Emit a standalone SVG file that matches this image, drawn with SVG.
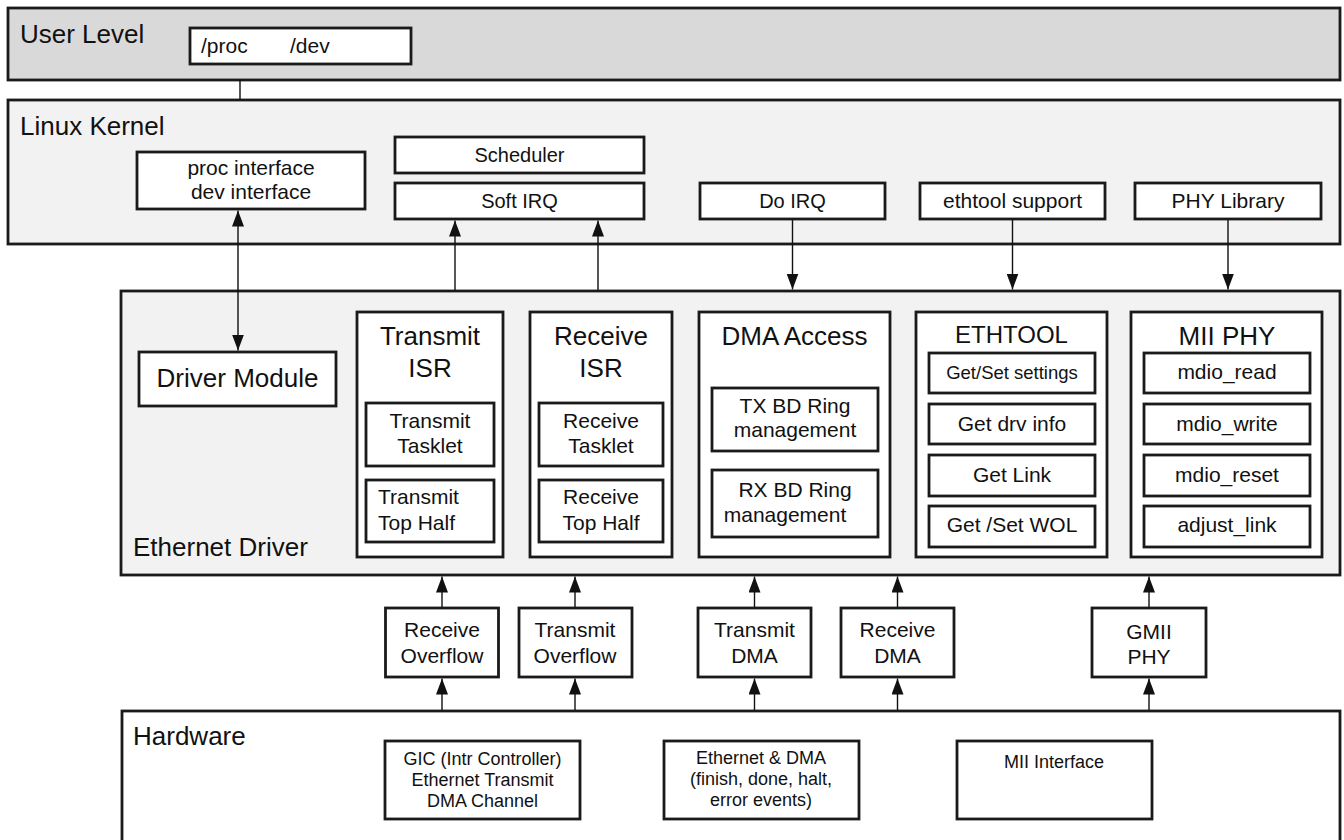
<svg xmlns="http://www.w3.org/2000/svg" width="1344" height="840" viewBox="0 0 1344 840">
<defs>
<marker id="ah" markerUnits="userSpaceOnUse" markerWidth="16" markerHeight="12" refX="16" refY="6" orient="auto-start-reverse">
<path d="M0,0 L16,6 L0,12 z" fill="#111"/>
</marker>
<style>
.band{stroke:#1a1a1a;stroke-width:2.8}
.box{fill:#fff;stroke:#1a1a1a;stroke-width:2.8}
text{font-family:"Liberation Sans",Arial,Helvetica,sans-serif;fill:#111}
.big{font-size:26px}
.mid{font-size:21px}
.sm{font-size:20px}
.hw{font-size:18px}
.c{text-anchor:middle}
.conn line{stroke:#111;stroke-width:1.4;marker-end:url(#ah)}
</style>
</defs>

<g id="user-level">
<rect class="band" x="8" y="8" width="1332" height="72" fill="#d9d9d9"/>
<text class="big" x="20" y="43">User Level</text>
<rect class="box" x="190" y="28" width="221" height="36"/>
<text class="mid" x="201" y="53">/proc</text>
<text class="mid" x="290" y="53">/dev</text>
</g>

<g id="linux-kernel">
<rect class="band" x="8" y="100" width="1332" height="144" fill="#f2f2f2"/>
<text class="big" x="20" y="135">Linux Kernel</text>
</g>
<g id="proc-interface">
<rect class="box" x="137" y="152" width="228" height="57"/>
<text class="mid c" x="251" y="175">proc interface</text>
<text class="mid c" x="251" y="199">dev interface</text>
</g>
<g id="scheduler">
<rect class="box" x="395" y="137" width="249" height="36"/>
<text class="sm c" x="519.5" y="162">Scheduler</text>
</g>
<g id="soft-irq">
<rect class="box" x="395" y="183" width="249" height="36"/>
<text class="sm c" x="519.5" y="208">Soft IRQ</text>
</g>
<g id="do-irq">
<rect class="box" x="700" y="183" width="185" height="36"/>
<text class="sm c" x="792.5" y="208">Do IRQ</text>
</g>
<g id="ethtool-support">
<rect class="box" x="920" y="183" width="185" height="36"/>
<text class="mid c" x="1012.5" y="208">ethtool support</text>
</g>
<g id="phy-library">
<rect class="box" x="1135" y="183" width="186" height="36"/>
<text class="mid c" x="1228" y="208">PHY Library</text>
</g>

<g id="ethernet-driver">
<rect class="band" x="121" y="291" width="1219" height="284" fill="#f2f2f2"/>
<text class="big" x="133" y="556">Ethernet Driver</text>
</g>
<g id="driver-module">
<rect class="box" x="139" y="352" width="197" height="54"/>
<text class="big c" x="237.5" y="387">Driver Module</text>
</g>
<g id="transmit-isr">
<rect class="box" x="357" y="312" width="146" height="245"/>
<text class="big c" x="430" y="345">Transmit</text>
<text class="big c" x="430" y="377">ISR</text>
<rect class="box" x="366" y="403" width="128" height="63"/>
<text class="mid c" x="430" y="428">Transmit</text>
<text class="mid c" x="430" y="453">Tasklet</text>
<rect class="box" x="366" y="480" width="128" height="62"/>
<text class="mid" x="378" y="504">Transmit</text>
<text class="mid" x="378" y="530">Top Half</text>
</g>
<g id="receive-isr">
<rect class="box" x="530" y="312" width="142" height="245"/>
<text class="big c" x="601" y="345">Receive</text>
<text class="big c" x="601" y="377">ISR</text>
<rect class="box" x="539" y="403" width="124" height="63"/>
<text class="mid c" x="601" y="428">Receive</text>
<text class="mid c" x="601" y="453">Tasklet</text>
<rect class="box" x="539" y="480" width="124" height="62"/>
<text class="mid c" x="601" y="504">Receive</text>
<text class="mid c" x="601" y="530">Top Half</text>
</g>
<g id="dma-access">
<rect class="box" x="699" y="312" width="191" height="245"/>
<text class="big c" x="794.5" y="345">DMA Access</text>
<rect class="box" x="712" y="388" width="166" height="63"/>
<text class="mid c" x="795" y="413">TX BD Ring</text>
<text class="mid c" x="795" y="437">management</text>
<rect class="box" x="712" y="470" width="166" height="67"/>
<text class="mid c" x="795" y="497">RX BD Ring</text>
<text class="mid c" x="785" y="521.5">management</text>
</g>
<g id="ethtool">
<rect class="box" x="916" y="312" width="191" height="245"/>
<text class="c" x="1011.5" y="343" font-size="24">ETHTOOL</text>
<rect class="box" x="929" y="353" width="166" height="40"/>
<text class="c" x="1012" y="379" font-size="18.5">Get/Set settings</text>
<rect class="box" x="929" y="404" width="166" height="40"/>
<text class="mid c" x="1012" y="431">Get drv info</text>
<rect class="box" x="929" y="455" width="166" height="41"/>
<text class="mid c" x="1012" y="482">Get Link</text>
<rect class="box" x="929" y="506" width="166" height="41"/>
<text class="mid c" x="1012" y="532">Get /Set WOL</text>
</g>
<g id="mii-phy">
<rect class="box" x="1131" y="312" width="191" height="245"/>
<text class="big c" x="1227" y="345">MII PHY</text>
<rect class="box" x="1144" y="353" width="166" height="40"/>
<text class="mid c" x="1227" y="379">mdio_read</text>
<rect class="box" x="1144" y="404" width="166" height="40"/>
<text class="mid c" x="1227" y="431">mdio_write</text>
<rect class="box" x="1144" y="455" width="166" height="41"/>
<text class="mid c" x="1227" y="482">mdio_reset</text>
<rect class="box" x="1144" y="506" width="166" height="41"/>
<text class="mid c" x="1227" y="532">adjust_link</text>
</g>

<g id="receive-overflow">
<rect class="box" x="385.5" y="608" width="113" height="69"/>
<text class="mid c" x="442" y="637">Receive</text>
<text class="mid c" x="442" y="663">Overflow</text>
</g>
<g id="transmit-overflow">
<rect class="box" x="519" y="608" width="113" height="69"/>
<text class="mid c" x="575" y="637">Transmit</text>
<text class="mid c" x="575" y="663">Overflow</text>
</g>
<g id="transmit-dma">
<rect class="box" x="698" y="608" width="113" height="69"/>
<text class="mid c" x="754.5" y="637">Transmit</text>
<text class="mid c" x="754.5" y="663">DMA</text>
</g>
<g id="receive-dma">
<rect class="box" x="841" y="608" width="113" height="69"/>
<text class="mid c" x="897.5" y="637">Receive</text>
<text class="mid c" x="897.5" y="663">DMA</text>
</g>
<g id="gmii-phy">
<rect class="box" x="1092" y="608" width="114" height="69"/>
<text class="mid c" x="1149" y="639">GMII</text>
<text class="mid c" x="1149" y="664">PHY</text>
</g>

<g id="hardware">
<rect class="band" x="122" y="711" width="1218" height="150" fill="#fff"/>
<text class="big" x="133" y="745">Hardware</text>
</g>
<g id="gic">
<rect class="box" x="385" y="741" width="195" height="78"/>
<text class="hw c" x="482.5" y="765">GIC (Intr Controller)</text>
<text class="hw c" x="482.5" y="786">Ethernet Transmit</text>
<text class="hw c" x="482.5" y="807">DMA Channel</text>
</g>
<g id="ethernet-dma">
<rect class="box" x="664" y="741" width="195" height="78"/>
<text class="hw c" x="761" y="764">Ethernet &amp; DMA</text>
<text class="hw c" x="761" y="785">(finish, done, halt,</text>
<text class="hw c" x="761" y="806">error events)</text>
</g>
<g id="mii-interface">
<rect class="box" x="957" y="741" width="195" height="78"/>
<text class="hw c" x="1054" y="768">MII Interface</text>
</g>

<g id="connectors" class="conn">
<path d="M240,80 V100" stroke="#111" stroke-width="1.4" fill="none"/>
<line x1="238" y1="210.5" x2="238" y2="350.5" style="marker-start:url(#ah)"/>
<line x1="455" y1="290" x2="455" y2="220.5"/>
<line x1="598" y1="290" x2="598" y2="220.5"/>
<line x1="792.5" y1="220" x2="792.5" y2="289.5"/>
<line x1="1012.5" y1="220" x2="1012.5" y2="289.5"/>
<line x1="1228" y1="220" x2="1228" y2="289.5"/>
<line x1="442" y1="607" x2="442" y2="576.5"/>
<line x1="575" y1="607" x2="575" y2="576.5"/>
<line x1="754.5" y1="607" x2="754.5" y2="576.5"/>
<line x1="897.5" y1="607" x2="897.5" y2="576.5"/>
<line x1="1149" y1="607" x2="1149" y2="576.5"/>
<line x1="442" y1="710" x2="442" y2="678.5"/>
<line x1="575" y1="710" x2="575" y2="678.5"/>
<line x1="754.5" y1="710" x2="754.5" y2="678.5"/>
<line x1="897.5" y1="710" x2="897.5" y2="678.5"/>
<line x1="1149" y1="710" x2="1149" y2="678.5"/>
</g>
</svg>
